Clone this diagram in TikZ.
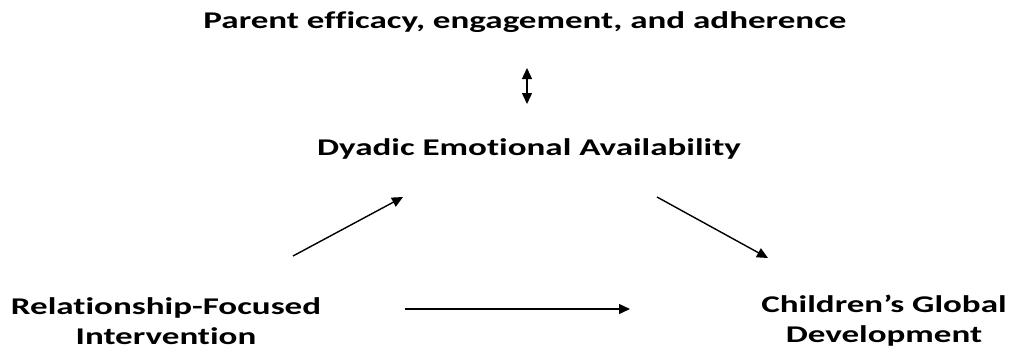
\documentclass[tikz,border=0pt]{standalone}
\usepackage{fontspec}
\setmainfont{Carlito}[FakeStretch=1.46, Ligatures=NoCommon]
\usetikzlibrary{arrows.meta}

\begin{document}
\begin{tikzpicture}[x=1pt, y=-1pt,
    lbl/.style={font=\fontsize{24}{30}\selectfont\bfseries, align=center, inner sep=0pt},
    arr/.style={-{Triangle[length=11pt, width=10pt]}, line width=1.4pt},
    dblarr/.style={{Triangle[length=11pt, width=10pt]}-{Triangle[length=11pt, width=10pt]}, line width=1.4pt}]
    \useasboundingbox (0,0) rectangle (1018,354);
    \node[lbl] (parent) at (525,22) {Parent efficacy, engagement, and adherence};
    \node[lbl] (dyadic) at (529,149) {Dyadic Emotional Availability};
    \node[lbl] (rfi) at (166,321) {Relationship-Focused\\Intervention};
    \node[lbl] (cgd) at (884,321) {Children's Global\\Development};
    \coordinate (d1) at (527,68);
    \coordinate (d2) at (527,104);
    \coordinate (l1) at (293,256);
    \coordinate (l2) at (403,197);
    \coordinate (r1) at (657,197);
    \coordinate (r2) at (768,258);
    \coordinate (b1) at (405,309);
    \coordinate (b2) at (630,309);
    \draw[dblarr] (d1) -- (d2);
    \draw[arr] (l1) -- (l2);
    \draw[arr] (r1) -- (r2);
    \draw[arr] (b1) -- (b2);
\end{tikzpicture}
\end{document}
